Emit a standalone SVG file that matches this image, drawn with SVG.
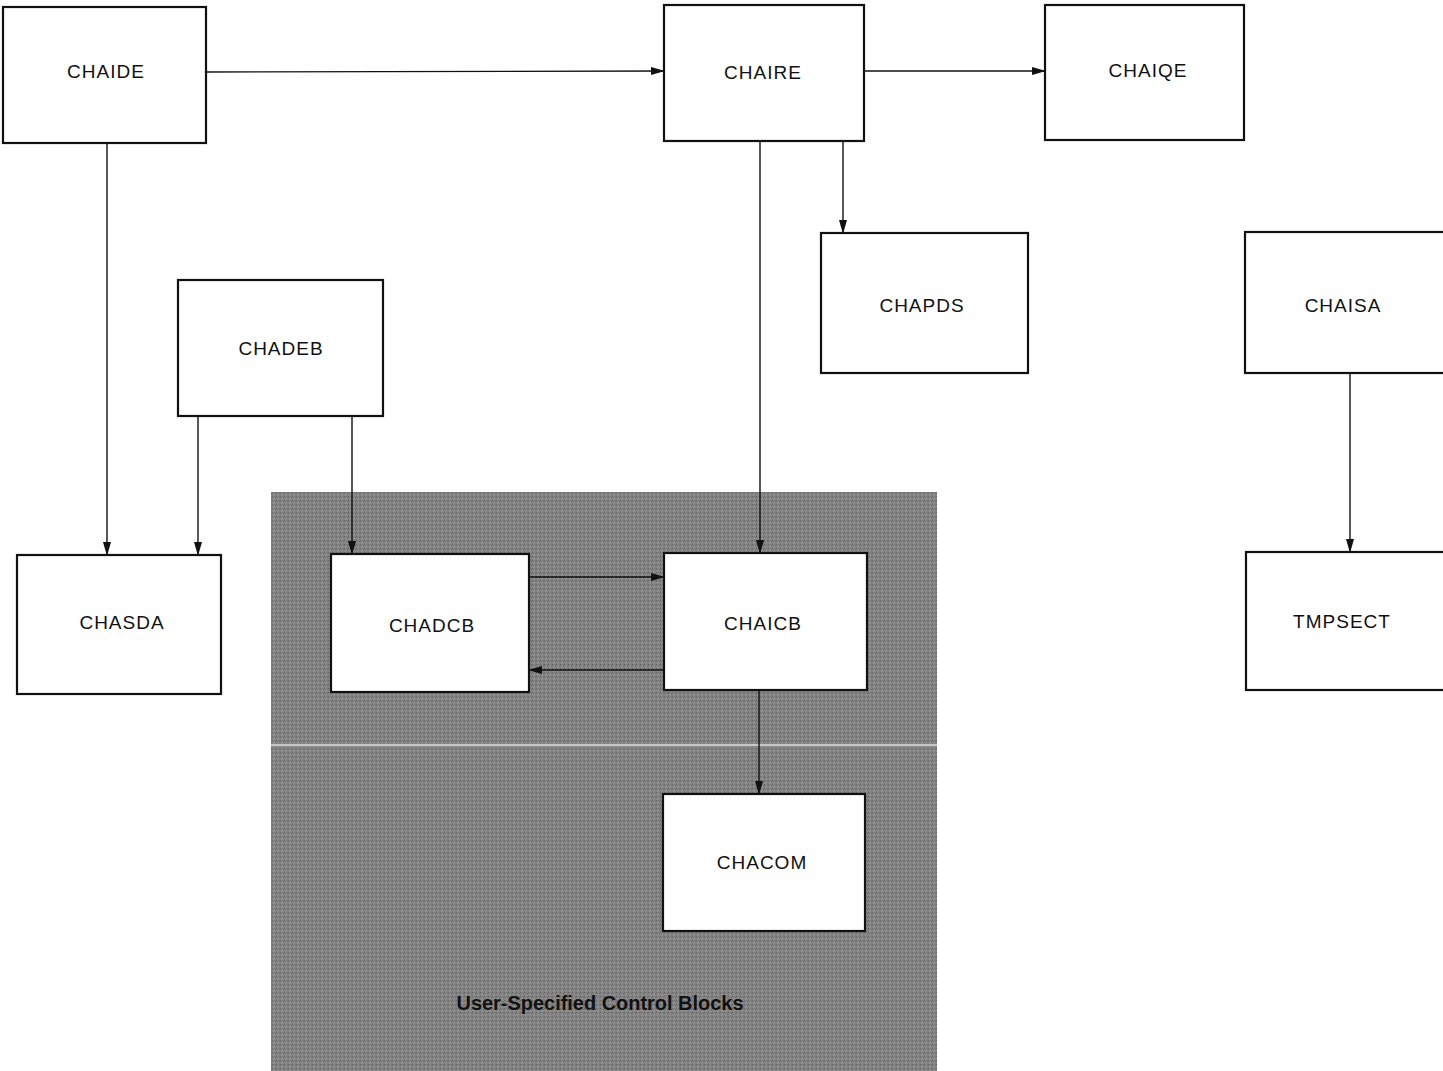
<svg xmlns="http://www.w3.org/2000/svg" width="1443" height="1071" viewBox="0 0 1443 1071">
<defs>
<marker id="ah" markerWidth="14" markerHeight="10" refX="13" refY="5" orient="auto" markerUnits="userSpaceOnUse">
<path d="M0,1 L14,5 L0,9 Z" fill="#111"/>
</marker>
<pattern id="grain" width="4" height="4" patternUnits="userSpaceOnUse">
<rect width="4" height="4" fill="#828282"/>
<rect x="0" y="0" width="1" height="1" fill="#626262"/>
<rect x="2" y="2" width="1" height="1" fill="#a0a0a0"/>
<rect x="3" y="1" width="1" height="1" fill="#6c6c6c"/>
<rect x="1" y="3" width="1" height="1" fill="#939393"/>
</pattern>
</defs>
<style>
.box{fill:#fff;stroke:#111;stroke-width:2.2}
.lbl{font-family:"Liberation Sans",Arial,sans-serif;font-size:19px;fill:#111;text-anchor:middle;dominant-baseline:central;letter-spacing:1px}
.con{stroke:#111;stroke-width:1.4;fill:none;marker-end:url(#ah)}
.note{font-family:"Liberation Sans",Arial,sans-serif;font-size:20px;font-weight:bold;fill:#111;text-anchor:middle}
</style>
<rect width="1443" height="1071" fill="#fff"/>
<g id="shaded-region">
<rect x="271" y="492" width="666" height="579" fill="url(#grain)"/>
<line x1="271" y1="745" x2="937" y2="745" stroke="#c8c8c8" stroke-width="2"/>
<text class="note" x="600" y="1010" textLength="287" lengthAdjust="spacingAndGlyphs">User-Specified Control Blocks</text>
</g>
<g id="connectors">
<line class="con" x1="206" y1="72" x2="664" y2="71"/>
<line class="con" x1="864" y1="71" x2="1045" y2="71"/>
<line class="con" x1="843" y1="141" x2="843" y2="233"/>
<line class="con" x1="760" y1="141" x2="760" y2="553"/>
<line class="con" x1="107" y1="143" x2="107" y2="555"/>
<line class="con" x1="198" y1="416" x2="198" y2="555"/>
<line class="con" x1="352" y1="416" x2="352" y2="554"/>
<line class="con" x1="529" y1="577" x2="664" y2="577"/>
<line class="con" x1="664" y1="670" x2="529" y2="670"/>
<line class="con" x1="759" y1="690" x2="759" y2="794"/>
<line class="con" x1="1350" y1="373" x2="1350" y2="552"/>
</g>
<g id="CHAIDE"><rect class="box" x="3" y="7" width="203" height="136"/><text class="lbl" x="106" y="71">CHAIDE</text></g>
<g id="CHAIRE"><rect class="box" x="664" y="5" width="200" height="136"/><text class="lbl" x="763" y="72">CHAIRE</text></g>
<g id="CHAIQE"><rect class="box" x="1045" y="5" width="199" height="135"/><text class="lbl" x="1148" y="70">CHAIQE</text></g>
<g id="CHAPDS"><rect class="box" x="821" y="233" width="207" height="140"/><text class="lbl" x="922" y="305">CHAPDS</text></g>
<g id="CHAISA"><rect class="box" x="1245" y="232" width="200" height="141"/><text class="lbl" x="1343" y="305">CHAISA</text></g>
<g id="CHADEB"><rect class="box" x="178" y="280" width="205" height="136"/><text class="lbl" x="281" y="348">CHADEB</text></g>
<g id="CHASDA"><rect class="box" x="17" y="555" width="204" height="139"/><text class="lbl" x="122" y="622">CHASDA</text></g>
<g id="CHADCB"><rect class="box" x="331" y="554" width="198" height="138"/><text class="lbl" x="432" y="625">CHADCB</text></g>
<g id="CHAICB"><rect class="box" x="664" y="553" width="203" height="137"/><text class="lbl" x="763" y="623">CHAICB</text></g>
<g id="TMPSECT"><rect class="box" x="1246" y="552" width="199" height="138"/><text class="lbl" x="1342" y="621">TMPSECT</text></g>
<g id="CHACOM"><rect class="box" x="663" y="794" width="202" height="137"/><text class="lbl" x="762" y="862">CHACOM</text></g>
</svg>
